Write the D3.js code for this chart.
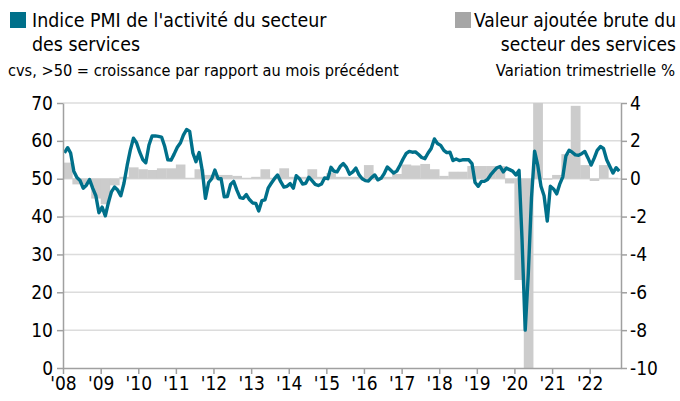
<!DOCTYPE html>
<html>
<head>
<meta charset="utf-8">
<script src="https://cdn.jsdelivr.net/npm/d3@7"></script>
<style>
  body { margin: 0; background: #fff; }
  svg { font-family: 'Liberation Sans Narrow', 'Arial Narrow', 'DejaVu Sans Condensed', sans-serif; }
</style>
</head>
<body>
<svg id="drawing_region"></svg>
<script>
// monthly services PMI, Jan 2008 .. Oct 2022
const pmiStart = [2008, 0];
const pmi = [
  56.8, 58.2, 56.8, 52.0, 50.3, 49.5, 47.5, 48.3, 49.8, 47.5, 45.5, 41.0,
  42.5, 40.2, 43.5, 46.5, 47.8, 47.0, 45.5, 48.8, 53.5, 57.5, 60.7, 59.5,
  57.0, 55.0, 54.2, 58.9, 61.3, 61.3, 61.2, 61.0, 58.5, 55.0, 54.9, 56.5,
  58.3, 59.5, 61.5, 63.0, 62.5, 56.8, 54.5, 56.9, 52.0, 44.8, 49.0, 50.0,
  52.3, 50.0, 50.0, 45.2, 45.3, 48.5, 49.3, 47.0, 45.0, 44.8, 45.8, 44.5,
  43.6, 43.5, 41.5, 44.2, 44.4, 47.5, 48.8, 50.0, 51.0, 49.2, 47.8, 48.0,
  48.7, 47.5, 50.8, 50.0, 48.6, 48.8, 50.4, 49.5, 48.5, 48.2, 48.6, 50.2,
  50.0, 53.0, 52.0, 51.8, 53.2, 54.0, 53.0, 51.2, 51.8, 52.8, 51.0, 50.0,
  49.5, 49.4, 50.3, 51.0, 49.7, 50.1, 51.3, 53.1, 52.3, 51.5, 52.0, 53.5,
  55.2, 56.7, 57.2, 57.0, 57.1, 56.4, 55.6, 55.3, 56.8, 58.0, 60.5, 59.3,
  58.8, 57.5, 56.9, 57.0, 54.8, 55.2, 54.8, 55.0, 55.0, 55.0, 54.0, 49.0,
  48.0, 49.3, 49.3, 49.8, 51.0, 52.0, 52.9, 53.2, 51.8, 52.8, 52.4, 52.0,
  51.0, 52.2, 34.0, 10.0, 25.0, 45.0, 57.3, 53.5, 48.0, 45.5, 38.8, 48.0,
  47.3, 46.0, 48.5, 50.5, 56.0, 57.5, 57.0, 56.3, 56.2, 56.6, 57.2, 55.5,
  53.6, 55.5, 57.5, 58.5, 58.0, 55.0, 53.3, 51.5, 52.9, 52.0
];

// quarterly gross value added of services, % q/q, 2008Q1 .. 2022Q3
const gvaStart = [2008, 0];
const gva = [
  0.85, -0.3, -0.3, -1.05,
  -1.35, -0.35, 0.1, 0.6,
  0.5, 0.46, 0.55, 0.55,
  0.75, 0.05, 0.5, 0.2,
  0.2, 0.2, 0.15, 0.05,
  0.1, 0.5, 0.05, 0.55,
  0.1, 0.1, 0.5, 0.1,
  0.3, 0.1, 0.1, 0.1,
  0.72, -0.05, 0.1, 0.25,
  0.75, 0.7, 0.78, 0.5,
  0.15, 0.37, 0.37, 0.67,
  0.67, 0.67, 0.67, -0.25,
  -5.35, -10.5, 6.0, -0.05,
  0.2, 1.3, 3.85, 0.72,
  -0.12, 0.72, 0.05
];

const years = d3.range(2008, 2023);
const leftTicks = [0, 10, 20, 30, 40, 50, 60, 70];
const rightTicks = [-10, -8, -6, -4, -2, 0, 2, 4];

const legendLeft = ["Indice PMI de l'activité du secteur", "des services"];
const legendRight = ["Valeur ajoutée brute du", "secteur des services"];
const noteLeft = "cvs, >50 = croissance par rapport au mois précédent";
const noteRight = "Variation trimestrielle %";

const teal = '#00708a';
const barGrey = '#cccccc';

const config = {
  width: 680,
  height: 401,
  margin: {top: 103, right: 59, bottom: 33, left: 63}
};

const svg = d3.select('#drawing_region')
  .attr('width', config.width)
  .attr('height', config.height);

const x0 = config.margin.left;
const x1 = config.width - config.margin.right;
const y0 = config.height - config.margin.bottom;
const y1 = config.margin.top;

const xscale = d3.scaleTime()
  .domain([new Date(2008, 0, 1), new Date(2022, 10, 1)])
  .range([x0, x1]);
const yleft = d3.scaleLinear().domain([0, 70]).range([y0, y1]);
const yright = d3.scaleLinear().domain([-10, 4]).range([y0, y1]);

svg.append('clipPath').attr('id', 'plot')
  .append('rect')
  .attr('x', x0).attr('y', y1)
  .attr('width', x1 - x0).attr('height', y0 - y1);

// grid
svg.append('g')
  .selectAll('line')
  .data(leftTicks.filter(d => d > 0))
  .join('line')
  .attr('x1', x0).attr('x2', x1)
  .attr('y1', d => yleft(d)).attr('y2', d => yleft(d))
  .attr('stroke', '#dcdcdc')
  .attr('stroke-width', 1.5);

// bars
const barData = gva.map((v, i) => ({
  start: new Date(gvaStart[0], gvaStart[1] + i * 3, 1),
  end: new Date(gvaStart[0], gvaStart[1] + i * 3 + 3, 1),
  v: v
}));
svg.append('g')
  .attr('clip-path', 'url(#plot)')
  .selectAll('rect')
  .data(barData)
  .join('rect')
  .attr('x', d => xscale(d.start))
  .attr('width', d => xscale(d.end) - xscale(d.start) + 0.3)
  .attr('y', d => yright(Math.max(0, d.v)))
  .attr('height', d => Math.abs(yright(d.v) - yright(0)))
  .attr('fill', barGrey);

// pmi line
const lineData = pmi.map((v, i) => ({ date: new Date(pmiStart[0], pmiStart[1] + i, 15), v: v }));
const line = d3.line()
  .x(d => xscale(d.date))
  .y(d => yleft(d.v))
  .curve(d3.curveLinear);
svg.append('path')
  .datum(lineData)
  .attr('d', line)
  .attr('fill', 'none')
  .attr('stroke', teal)
  .attr('stroke-width', 3.4)
  .attr('stroke-linejoin', 'round');

// axes
const axisColor = '#a0a0a0';
function styleAxis(g) {
  g.select('.domain').attr('stroke', axisColor).attr('stroke-width', 1.5);
  g.selectAll('.tick line').attr('stroke', axisColor).attr('stroke-width', 1.5);
  g.selectAll('.tick text').attr('fill', '#000').attr('font-size', 19)
    .attr('font-family', "'Liberation Sans Narrow', 'Arial Narrow', 'DejaVu Sans Condensed', sans-serif");
}

svg.append('g')
  .attr('transform', `translate(${x0},0)`)
  .call(d3.axisLeft(yleft).tickValues(leftTicks).tickSize(6).tickSizeOuter(0).tickPadding(4).tickFormat(d => String(d)))
  .call(styleAxis);

svg.append('g')
  .attr('transform', `translate(${x1},0)`)
  .call(d3.axisRight(yright).tickValues(rightTicks).tickSize(6).tickSizeOuter(0).tickPadding(3).tickFormat(d => String(d)))
  .call(styleAxis);

svg.append('g')
  .attr('transform', `translate(0,${y0})`)
  .call(d3.axisBottom(xscale)
    .tickValues(years.map(y => new Date(y, 0, 1)))
    .tickSize(6).tickSizeOuter(0).tickPadding(3)
    .tickFormat(d => "'" + String(d.getFullYear()).slice(2)))
  .call(styleAxis);

// legend
svg.append('rect').attr('x', 10).attr('y', 12).attr('width', 16).attr('height', 16).attr('fill', teal);
svg.append('rect').attr('x', 455).attr('y', 12).attr('width', 16).attr('height', 16).attr('fill', '#a6a6a6');

svg.append('g')
  .selectAll('text')
  .data(legendLeft)
  .join('text')
  .attr('x', 32)
  .attr('y', (d, i) => 27 + i * 24)
  .attr('font-size', 19.4)
  .text(d => d);

svg.append('g')
  .selectAll('text')
  .data(legendRight)
  .join('text')
  .attr('x', 676)
  .attr('y', (d, i) => 27 + i * 24)
  .attr('text-anchor', 'end')
  .attr('font-size', 19)
  .text(d => d);

svg.append('text')
  .attr('x', 8).attr('y', 76)
  .attr('font-size', 16.2)
  .text(noteLeft);

svg.append('text')
  .attr('x', 675).attr('y', 76)
  .attr('text-anchor', 'end')
  .attr('font-size', 16.5)
  .text(noteRight);
</script>
</body>
</html>
